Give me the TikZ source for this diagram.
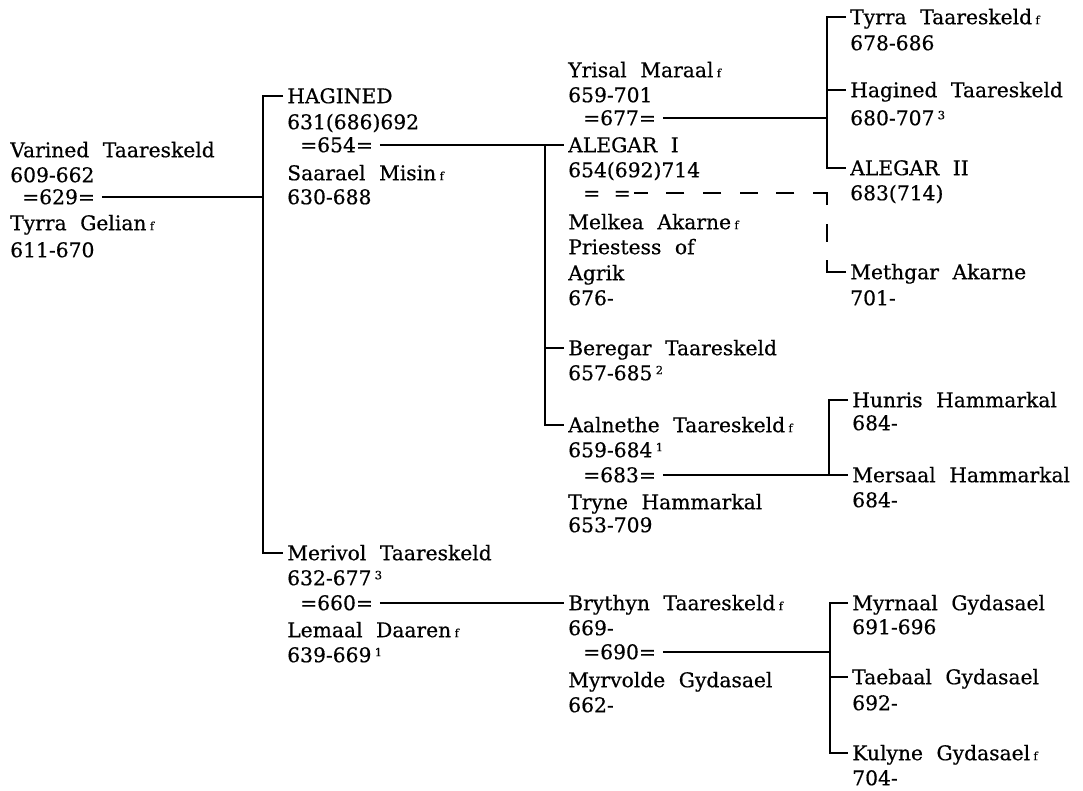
\documentclass[tikz,border=0pt]{standalone}
\usepackage{fontspec}
\setmainfont[WordSpace=2.1,FakeBold=0.5]{DejaVu Serif}
\usetikzlibrary{calc}
\newcommand{\fem}{\,{\fontsize{8.5}{8.5}\selectfont f}}
\newcommand{\fnote}[1]{\,\raisebox{4.5pt}{\fontsize{8.5}{8.5}\selectfont #1}}

\begin{document}
\begin{tikzpicture}[
  x=0.75pt, y=-0.75pt,
  who/.style={anchor=west, inner sep=0pt, text height=10.8pt, text depth=0pt,
    font=\fontsize{15.2}{18}\selectfont},
  tie/.style={line width=2.2pt},
  dashtie/.style={line width=2.2pt,
    dash pattern=on 23pt off 14pt on 13.5pt off 14pt on 19.5pt off 14pt
      on 13.5pt off 14pt on 13.5pt off 14pt on 13.5pt off 14pt
      on 13.5pt off 14pt on 13.5pt off 14pt on 13.5pt off 14pt},
]
  \useasboundingbox (0,0) rectangle (1083,790);

  % first generation
  \node[who] (varined) at (10,150) {Varined Taareskeld};
  \node[who] (varinedd) at (10,175) {609-662};
  \node[who] (wed629) at (22,197) {=629=};
  \node[who] (tyrrag) at (10,223) {Tyrra Gelian\fem};
  \node[who] (tyrragd) at (10,250) {611-670};

  % second generation
  \node[who] (hagined) at (287,96) {HAGINED};
  \node[who] (haginedd) at (287,122) {631(686)692};
  \node[who] (wed654) at (300,145) {=654=};
  \node[who] (saarael) at (287,173) {Saarael Misin\fem};
  \node[who] (saaraeld) at (287,197) {630-688};
  \node[who] (merivol) at (287,553) {Merivol Taareskeld};
  \node[who] (merivold) at (287,578) {632-677\fnote{3}};
  \node[who] (wed660) at (300,603) {=660=};
  \node[who] (lemaal) at (287,630) {Lemaal Daaren\fem};
  \node[who] (lemaald) at (287,655) {639-669\fnote{1}};

  % third generation
  \node[who] (yrisal) at (568,70) {Yrisal Maraal\fem};
  \node[who] (yrisald) at (568,95) {659-701};
  \node[who] (wed677) at (583,118) {=677=};
  \node[who] (alegar) at (568,145) {ALEGAR I};
  \node[who] (alegard) at (568,170) {654(692)714};
  \node[who] (liaison) at (583,193) {= =};
  \node[who] (melkea) at (568,222) {Melkea Akarne\fem};
  \node[who] (melkeap) at (568,247) {Priestess of};
  \node[who] (melkeaa) at (568,273) {Agrik};
  \node[who] (melkead) at (568,298) {676-};
  \node[who] (beregar) at (568,348) {Beregar Taareskeld};
  \node[who] (beregard) at (568,373) {657-685\fnote{2}};
  \node[who] (aalnethe) at (568,425) {Aalnethe Taareskeld\fem};
  \node[who] (aalnethed) at (568,450) {659-684\fnote{1}};
  \node[who] (wed683) at (583,475) {=683=};
  \node[who] (tryne) at (568,502) {Tryne Hammarkal};
  \node[who] (tryned) at (568,525) {653-709};
  \node[who] (brythyn) at (568,603) {Brythyn Taareskeld\fem};
  \node[who] (brythynd) at (568,628) {669-};
  \node[who] (wed690) at (583,652) {=690=};
  \node[who] (myrvolde) at (568,680) {Myrvolde Gydasael};
  \node[who] (myrvolded) at (568,705) {662-};

  % fourth generation
  \node[who] (tyrrat) at (850,17) {Tyrra Taareskeld\fem};
  \node[who] (tyrratd) at (850,43) {678-686};
  \node[who] (hagined2) at (850,90) {Hagined Taareskeld};
  \node[who] (hagined2d) at (850,118) {680-707\fnote{3}};
  \node[who] (alegar2) at (850,168) {ALEGAR II};
  \node[who] (alegar2d) at (850,193) {683(714)};
  \node[who] (methgar) at (850,272) {Methgar Akarne};
  \node[who] (methgard) at (850,298) {701-};
  \node[who] (hunris) at (852,400) {Hunris Hammarkal};
  \node[who] (hunrisd) at (852,423) {684-};
  \node[who] (mersaal) at (852,475) {Mersaal Hammarkal};
  \node[who] (mersaald) at (852,500) {684-};
  \node[who] (myrnaal) at (852,603) {Myrnaal Gydasael};
  \node[who] (myrnaald) at (852,627) {691-696};
  \node[who] (taebaal) at (852,677) {Taebaal Gydasael};
  \node[who] (taebaald) at (852,703) {692-};
  \node[who] (kulyne) at (852,753) {Kulyne Gydasael\fem};
  \node[who] (kulyned) at (852,778) {704-};

  % brackets
  \coordinate (b1) at (263,197);
  \coordinate (b2) at (545,145);
  \coordinate (b3) at (827,118);
  \coordinate (b4) at (829,475);
  \coordinate (b5) at (830,652);

  \draw[tie] ([xshift=5pt]wed629.east) -- (wed629 -| b1);
  \draw[tie] ([xshift=-3pt]hagined.west) -| (b1) |- ([xshift=-3pt]merivol.west);

  \draw[tie] ([xshift=5pt]wed654.east) -- ([xshift=-3pt]alegar.west);
  \draw[tie] (b2) |- ([xshift=-3pt]aalnethe.west);
  \draw[tie] (beregar -| b2) -- ([xshift=-3pt]beregar.west);
  \draw[tie] ([xshift=5pt]wed660.east) -- ([xshift=-3pt]brythyn.west);

  \draw[tie] ([xshift=5pt]wed677.east) -- (b3);
  \draw[tie] ([xshift=-3pt]tyrrat.west) -| (b3) |- ([xshift=-3pt]alegar2.west);
  \draw[tie] (hagined2 -| b3) -- ([xshift=-3pt]hagined2.west);
  \draw[dashtie] ([xshift=-3pt]methgar.west) -- (methgar -| b3) -- (liaison -| b3)
    -- ([xshift=2pt]liaison.east);

  \draw[tie] ([xshift=5pt]wed683.east) -- ([xshift=-3pt]mersaal.west);
  \draw[tie] ([xshift=-3pt]hunris.west) -| (b4);

  \draw[tie] ([xshift=5pt]wed690.east) -- (b5);
  \draw[tie] ([xshift=-3pt]myrnaal.west) -| (b5) |- ([xshift=-3pt]kulyne.west);
  \draw[tie] (taebaal -| b5) -- ([xshift=-3pt]taebaal.west);
\end{tikzpicture}
\end{document}
